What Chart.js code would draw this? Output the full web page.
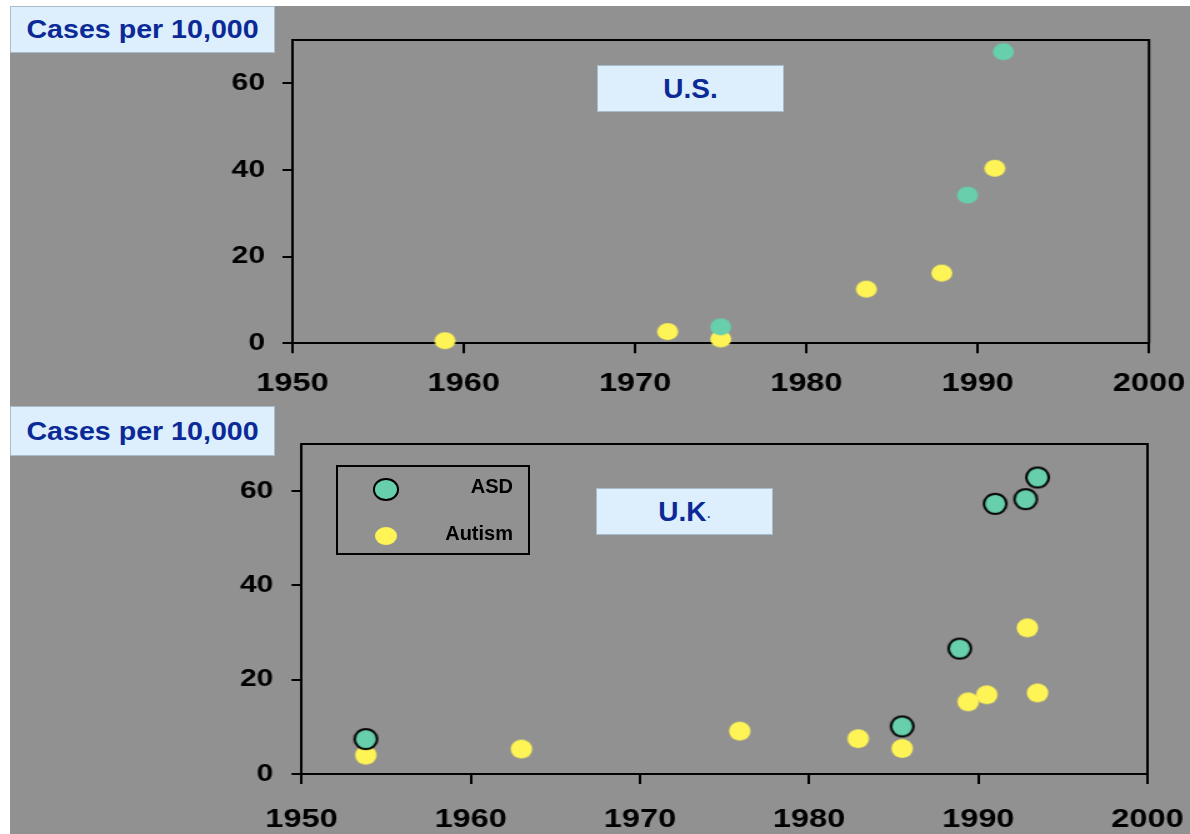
<!DOCTYPE html>
<html><head><meta charset="utf-8">
<script src="https://cdn.jsdelivr.net/npm/chart.js@4.4.1/dist/chart.umd.min.js"></script>
<style>
html,body{margin:0;padding:0;background:#fff;}
body{width:1190px;height:834px;position:relative;overflow:hidden;font-family:"Liberation Sans",Arial,sans-serif;}
#bg{position:absolute;left:10px;top:6px;width:1180px;height:828px;background:#919191;}
.wrap{position:absolute;left:10px;transform-origin:0 0;transform:scaleX(1.25);}
.wrap canvas{display:block;}
.box{position:absolute;background:#ddeefd;border:1px solid #a8bccb;box-sizing:border-box;color:#0b2a97;font-weight:bold;display:flex;align-items:center;justify-content:center;white-space:nowrap;}
.lg{position:absolute;border:2px solid #000;box-sizing:border-box;}
.lgm{position:absolute;border-radius:50%;box-sizing:border-box;}
.lgt{position:absolute;font-size:20px;font-weight:bold;color:#000;text-align:right;line-height:24px;white-space:nowrap;}
</style></head>
<body>
<div id="bg"></div>
<div class="wrap" style="top:6px;width:944px;height:394px"><canvas id="c1" width="944" height="394"></canvas></div>
<div class="wrap" style="top:400px;width:944px;height:434px"><canvas id="c2" width="944" height="434"></canvas></div>
<div class="box" style="left:10px;top:6px;width:265px;height:47px;font-size:26px"><span style="display:inline-block;transform:scaleX(1.1)">Cases per 10,000</span></div>
<div class="box" style="left:10px;top:406px;width:265px;height:50px;font-size:26px"><span style="display:inline-block;transform:scaleX(1.1)">Cases per 10,000</span></div>
<div class="box" style="left:597px;top:65px;width:187px;height:47px;font-size:28px">U.S.</div>
<div class="box" style="left:596px;top:488px;width:177px;height:47px;font-size:28px">U.K<span style="font-size:16px;font-weight:normal;align-self:flex-end;margin-bottom:12px">.</span></div>
<div id="legend"></div>
<script>
// ---- data ----
const xTicks = [1950, 1960, 1970, 1980, 1990, 2000];
const yTicks = [0, 20, 40, 60];
const seriesLabels = ['ASD', 'Autism'];

const usAsdYears = [1975.0, 1989.4, 1991.5];
const usAsdValues = [3.8, 34.2, 67.3];
const usAutismYears = [1958.9, 1971.9, 1975.0, 1983.5, 1987.9, 1991.0];
const usAutismValues = [0.6, 2.7, 1.0, 12.5, 16.2, 40.4];

const ukAsdYears = [1953.8, 1985.5, 1988.9, 1991.0, 1992.8, 1993.5];
const ukAsdValues = [7.4, 10.1, 26.6, 57.3, 58.3, 62.9];
const ukAutismYears = [1953.8, 1963.0, 1975.9, 1982.9, 1985.5, 1989.4, 1990.5, 1992.9, 1993.5];
const ukAutismValues = [4.0, 5.3, 9.1, 7.5, 5.4, 15.3, 16.8, 31.0, 17.2];

// ---- styling ----
const K = 1.25; // horizontal stretch of the chart canvases
const GREEN = '#67cfab', YELLOW = '#fff455';

function pts(xs, ys) { return xs.map((x, i) => ({x: x, y: ys[i]})); }

function makeDot(wS, hS, fill, stroke, lw) {
  const w = wS / K, h = hS;
  const c = document.createElement('canvas');
  c.width = Math.ceil(w) + 2; c.height = Math.ceil(h) + 2;
  const g = c.getContext('2d');
  g.beginPath();
  g.ellipse(c.width / 2, c.height / 2, w / 2 - lw / 2, h / 2 - lw / 2, 0, 0, Math.PI * 2);
  g.fillStyle = fill; g.fill();
  if (lw) { g.lineWidth = lw; g.strokeStyle = stroke; g.stroke(); }
  return c;
}

const framePlugin = {
  id: 'frame',
  beforeDatasetsDraw(chart) {
    const a = chart.chartArea, ctx = chart.ctx;
    ctx.save();
    ctx.strokeStyle = '#000'; ctx.lineWidth = 2;
    ctx.beginPath();
    ctx.moveTo(a.left, a.top); ctx.lineTo(a.right, a.top); ctx.lineTo(a.right, a.bottom);
    ctx.stroke();
    ctx.restore();
  }
};

function makeChart(id, asd, autism, dotAsd, dotAut, geo) {
  const chart = new Chart(document.getElementById(id), {
    type: 'scatter',
    data: {
      datasets: [
        {label: seriesLabels[0], data: asd, pointStyle: dotAsd, pointRadius: 10, clip: false},
        {label: seriesLabels[1], data: autism, pointStyle: dotAut, pointRadius: 10, clip: false}
      ]
    },
    plugins: [framePlugin],
    options: {
      responsive: false, animation: false, devicePixelRatio: 1, events: [],
      layout: {autoPadding: false, padding: {left: 0, top: geo.top, right: geo.right, bottom: 0}},
      plugins: {legend: {display: false}, tooltip: {enabled: false}},
      scales: {
        x: {
          type: 'linear', min: xTicks[0], max: xTicks[xTicks.length - 1],
          afterBuildTicks: s => { s.ticks = xTicks.map(v => ({value: v})); },
          afterFit: s => { s.height = geo.xh; s.paddingLeft = 0; s.paddingRight = 0; },
          border: {display: true, color: '#000', width: 2},
          grid: {drawOnChartArea: false, drawTicks: true, tickLength: 10, color: '#000', lineWidth: 2},
          ticks: {color: '#000', padding: geo.xpad, maxRotation: 0, autoSkip: false,
                  font: {family: 'Liberation Sans', weight: 'bold', size: 26},
                  callback: v => String(v)}
        },
        y: {
          type: 'linear', min: 0, max: 70,
          afterBuildTicks: s => { s.ticks = yTicks.map(v => ({value: v})); },
          afterFit: s => { s.width = geo.yw; s.paddingTop = 0; s.paddingBottom = 0; },
          border: {display: true, color: '#000', width: 2},
          grid: {drawOnChartArea: false, drawTicks: true, tickLength: 8, color: '#000', lineWidth: 2},
          ticks: {color: '#000', padding: geo.ypad,
                  font: {family: 'Liberation Sans', weight: 'bold', size: 24},
                  callback: v => String(v)}
        }
      }
    }
  });
  // nudge the layout so the plot area lands exactly on the target frame
  for (let i = 0; i < 3; i++) {
    const a = chart.chartArea;
    geo.right += a.right - geo.tRight;
    geo.top += geo.tTop - a.top;
    geo.yw += geo.tLeft - a.left;
    geo.xh += a.bottom - geo.tBottom;
    chart.options.layout.padding = {left: 0, top: geo.top, right: geo.right, bottom: 0};
    chart.update();
  }
  return chart;
}

const topAsdDot = makeDot(21, 17, GREEN, null, 0);
const topAutDot = makeDot(21, 17, YELLOW, null, 0);
const botAsdDot = makeDot(25, 22, GREEN, '#000', 2);
const botAutDot = makeDot(21.5, 19, YELLOW, null, 0);

makeChart('c1', pts(usAsdYears, usAsdValues), pts(usAutismYears, usAutismValues), topAsdDot, topAutDot,
  {top: 34, right: 32.8, yw: 226, xh: 56.7, xpad: 15, ypad: 14,
   tLeft: 226, tRight: 911.2, tTop: 34, tBottom: 337.3});
const ukChart = makeChart('c2', pts(ukAsdYears, ukAsdValues), pts(ukAutismYears, ukAutismValues), botAsdDot, botAutDot,
  {top: 44, right: 34, yw: 233.2, xh: 60, xpad: 20, ypad: 14.6,
   tLeft: 233.2, tRight: 910, tTop: 44, tBottom: 374});

// ---- legend (HTML, built from the UK datasets) ----
(function () {
  const L = document.getElementById('legend');
  const box = document.createElement('div');
  box.className = 'lg';
  Object.assign(box.style, {left: '336px', top: '465px', width: '194px', height: '90px'});
  L.appendChild(box);
  const marks = [
    {cx: 385.7, cy: 489.3, w: 25.7, h: 22.7, fill: GREEN, border: '2px solid #000', ty: 474},
    {cx: 385.7, cy: 536, w: 22, h: 18.7, fill: YELLOW, border: 'none', ty: 521}
  ];
  ukChart.data.datasets.forEach((ds, i) => {
    const m = marks[i];
    const d = document.createElement('div');
    d.className = 'lgm';
    Object.assign(d.style, {left: (m.cx - m.w / 2) + 'px', top: (m.cy - m.h / 2) + 'px',
      width: m.w + 'px', height: m.h + 'px', background: m.fill, border: m.border});
    L.appendChild(d);
    const t = document.createElement('div');
    t.className = 'lgt';
    Object.assign(t.style, {left: '400px', width: '113px', top: m.ty + 'px'});
    t.textContent = ds.label;
    L.appendChild(t);
  });
})();
</script>
</body></html>
